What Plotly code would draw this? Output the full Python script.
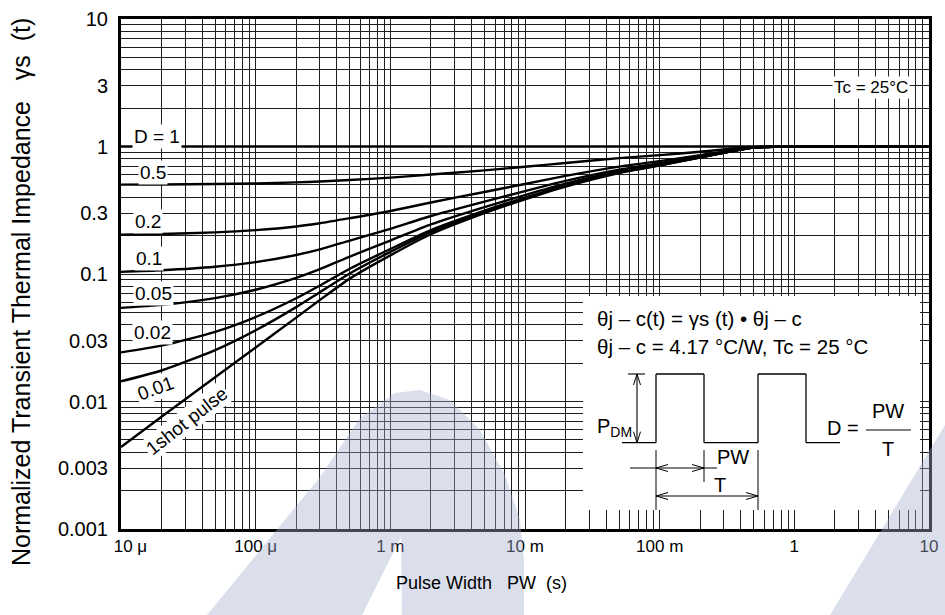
import plotly.graph_objects as go

# ---------------- data ----------------
pulse_width = [1e-5, 2e-5, 5e-5, 1e-4, 2e-4, 3e-4, 5e-4, 1e-3, 2e-3, 5e-3,
               1e-2, 2e-2, 5e-2, 0.1, 0.2, 0.5, 1, 2, 5, 10]

gamma_d100 = [1.0, 1.0, 1.0, 1.0, 1.0, 1.0, 1.0, 1.0, 1.0, 1.0,
              1.0, 1.0, 1.0, 1.0, 1.0, 1.0, 1.0, 1.0, 1.0, 1.0]
gamma_d050 = [0.502, 0.504, 0.508, 0.513, 0.523, 0.531, 0.546, 0.57, 0.603, 0.65,
              0.693, 0.743, 0.81, 0.855, 0.91, 0.99, 1.0, 1.0, 1.0, 1.0]
gamma_d020 = [0.2035, 0.206, 0.212, 0.221, 0.236, 0.25, 0.274, 0.312, 0.364, 0.44,
              0.508, 0.588, 0.696, 0.768, 0.856, 0.984, 1.0, 1.0, 1.0, 1.0]
gamma_d010 = [0.104, 0.107, 0.114, 0.124, 0.141, 0.156, 0.183, 0.226, 0.285, 0.37,
              0.447, 0.537, 0.658, 0.739, 0.838, 0.982, 1.0, 1.0, 1.0, 1.0]
gamma_d005 = [0.0542, 0.0572, 0.0647, 0.0752, 0.0932, 0.109, 0.137, 0.183, 0.245, 0.335,
              0.416, 0.511, 0.639, 0.725, 0.829, 0.981, 1.0, 1.0, 1.0, 1.0]
gamma_d002 = [0.0243, 0.0274, 0.0352, 0.046, 0.0646, 0.0813, 0.11, 0.157, 0.221, 0.314,
              0.397, 0.495, 0.628, 0.716, 0.824, 0.98, 1.0, 1.0, 1.0, 1.0]
gamma_d001 = [0.0144, 0.0175, 0.0253, 0.0362, 0.055, 0.072, 0.101, 0.149, 0.213, 0.307,
              0.391, 0.49, 0.624, 0.713, 0.822, 0.98, 1.0, 1.0, 1.0, 1.0]
gamma_single = [0.0044, 0.0076, 0.0155, 0.0265, 0.0455, 0.0626, 0.092, 0.14, 0.205, 0.30,
                0.385, 0.485, 0.62, 0.71, 0.82, 0.98, 1.0, 1.0, 1.0, 1.0]

series = [gamma_d100, gamma_d050, gamma_d020, gamma_d010,
          gamma_d005, gamma_d002, gamma_d001, gamma_single]
series_names = ["D = 1", "0.5", "0.2", "0.1", "0.05", "0.02", "0.01", "1shot pulse"]

NB = "\u00a0"
x_tickvals = [1e-5, 1e-4, 1e-3, 1e-2, 1e-1, 1, 10]
x_ticktext = [NB * 4 + "10 μ", "100 μ", "1 m", "10 m", "100 m", "1", "10"]
y_tickvals = [0.001, 0.003, 0.01, 0.03, 0.1, 0.3, 1, 3, 10]
y_ticktext = ["0.001", "0.003", "0.01", "0.03", "0.1", "0.3", "1", "3", "10"]

# ---------------- layout helpers ----------------
W, H = 945, 615
L, R, T, B = 121, 929, 19, 529


def px(x):
    return (x - L) / (R - L)


def py(y):
    return (B - y) / (B - T)


FONT = "Liberation Sans, Arial, sans-serif"
GRID = "#1e1e1e"

x_minor = [m * 10.0 ** e for e in range(-5, 1) for m in range(2, 10)]
y_minor = [m * 10.0 ** e for e in range(-3, 1) for m in range(2, 10)]

fig = go.Figure()
for name, ys in zip(series_names, series):
    fig.add_trace(go.Scatter(x=pulse_width, y=ys, mode="lines", name=name,
                             line=dict(color="black", width=2.4, shape="spline", smoothing=0.6),
                             hoverinfo="skip"))

shapes = []


def seg(x0, y0, x1, y1, w=1.2, color="black"):
    shapes.append(dict(type="line", xref="paper", yref="paper",
                       x0=px(x0), y0=py(y0), x1=px(x1), y1=py(y1),
                       line=dict(color=color, width=w), layer="above"))


def poly(pts, fill):
    d = "M " + " L ".join(f"{px(a):.5f},{py(b):.5f}" for a, b in pts) + " Z"
    shapes.append(dict(type="path", xref="paper", yref="paper", path=d,
                       fillcolor=fill, line=dict(width=0), layer="above"))


# inset white box
shapes.append(dict(type="rect", xref="paper", yref="paper",
                   x0=px(583), x1=px(920), y0=py(510), y1=py(296),
                   fillcolor="white", line=dict(width=0), layer="above"))

# pulse waveform
base, top = 442.7, 374
wave = [(622, base), (656, base), (656, top), (704, top), (704, base),
        (758, base), (758, top), (806, top), (806, base), (840, base)]
for (a, b), (c, d) in zip(wave[:-1], wave[1:]):
    seg(a, b, c, d, 1.3)
# P_DM dimension
seg(628, top, 645, top, 1.1)
seg(637, top, 637, base, 1.1)
seg(637, top, 633.5, top + 11, 1.0)
seg(637, top, 640.5, top + 11, 1.0)
seg(637, base, 633.5, base - 11, 1.0)
seg(637, base, 640.5, base - 11, 1.0)
# extension lines
seg(656, 450, 656, 510, 1.0)
seg(704, 450, 704, 482, 1.0)
seg(758, 450, 758, 510, 1.0)
# PW arrow
seg(630, 468, 717, 468, 1.0)
seg(656, 468, 668, 464.5, 1.0)
seg(656, 468, 668, 471.5, 1.0)
seg(704, 468, 692, 464.5, 1.0)
seg(704, 468, 692, 471.5, 1.0)
# T arrow
seg(656, 496, 758, 496, 1.0)
seg(656, 496, 668, 492.5, 1.0)
seg(656, 496, 668, 499.5, 1.0)
seg(758, 496, 746, 492.5, 1.0)
seg(758, 496, 746, 499.5, 1.0)
# fraction bar
seg(866, 430, 911, 430, 1.2)

# watermark (light translucent bands)
WM = "rgba(165,174,208,0.40)"
poly([(207, 615), (320, 477), (360, 418), (395, 393), (420, 390), (450, 400),
      (480, 430), (505, 475), (520, 520), (524, 560), (524, 615), (402, 615),
      (401, 537), (362, 615)], WM)
poly([(830, 615), (945, 425), (945, 615)], WM)

annotations = []


def label(text, x, y, size=19, angle=0, bg=None, xanchor="center"):
    a = dict(text=text, xref="paper", yref="paper", x=px(x), y=py(y),
             xanchor=xanchor, yanchor="middle", showarrow=False, textangle=angle,
             font=dict(family=FONT, size=size, color="black"))
    if bg:
        a["bgcolor"] = bg
        a["borderpad"] = 1
    annotations.append(a)


# curve labels
label("D = 1", 157, 136, bg="white")
label("0.5", 153, 172, bg="white")
label("0.2", 148, 221, bg="white")
label("0.1", 149, 258, bg="white")
label("0.05", 153, 293, bg="white")
label("0.02", 152, 332, bg="white")
label("0.01", 155, 388, angle=-20, bg="white")
label("1shot pulse", 186, 421, angle=-38, bg="white")
label("Tc = 25°C", 871, 88, size=17, bg="white")

# inset texts
label("θj – c(t) = γs (t) • θj – c", 595, 318, size=20.5, xanchor="left")
label("θj – c = 4.17 °C/W, Tc = 25 °C", 595, 347, size=20.5, xanchor="left")
label("P<sub>DM</sub>", 614, 427, size=20)
label("PW", 733, 457, size=20)
label("T", 720, 485, size=20)
label("D =", 843, 428, size=20)
label("PW", 888, 411, size=20)
label("T", 888, 449, size=20)

# axis titles
label("Normalized Transient Thermal Impedance   γs  (t)", 21, 292, size=25, angle=-90)
label("Pulse Width   PW  (s)", 481, 583, size=18)

fig.update_layout(
    width=W, height=H,
    margin=dict(l=L, r=W - R, t=T, b=H - B, autoexpand=False),
    paper_bgcolor="white", plot_bgcolor="white",
    showlegend=False,
    font=dict(family=FONT, color="black"),
    shapes=shapes, annotations=annotations,
    xaxis=dict(type="log", range=[-5, 1], tickmode="array", automargin=False,
               tickvals=x_tickvals, ticktext=x_ticktext, ticks="",
               tickfont=dict(family=FONT, size=17), ticklabelstandoff=0,
               showgrid=True, gridcolor=GRID, gridwidth=1,
               minor=dict(tickmode="array", tickvals=x_minor, showgrid=True,
                          gridcolor=GRID, gridwidth=1, ticks=""),
               showline=True, linecolor="black", linewidth=3, mirror=True,
               zeroline=False),
    yaxis=dict(type="log", range=[-3, 1], tickmode="array", automargin=False,
               tickvals=y_tickvals, ticktext=y_ticktext, ticks="",
               tickfont=dict(family=FONT, size=20), ticklabelstandoff=6,
               showgrid=True, gridcolor=GRID, gridwidth=1,
               minor=dict(tickmode="array", tickvals=y_minor, showgrid=True,
                          gridcolor=GRID, gridwidth=1, ticks=""),
               showline=True, linecolor="black", linewidth=3, mirror=True,
               zeroline=False),
)

fig.write_html("out.html", config={"displayModeBar": False},
               post_script="document.body.style.margin='0';")
